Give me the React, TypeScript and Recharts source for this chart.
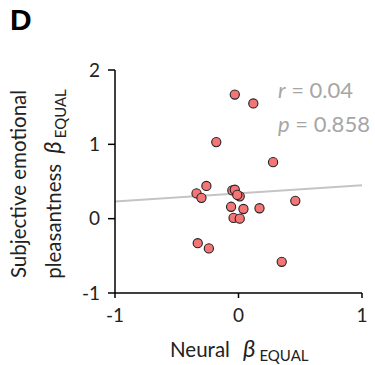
import React from 'react';
import {
  ComposedChart,
  Scatter,
  XAxis,
  YAxis,
  ReferenceLine,
  Customized,
} from 'recharts';

// neural beta (x) vs subjective pleasantness beta (y), one point per subject
const neuralBeta = [
  -0.03, 0.12, -0.18, 0.28, -0.26, -0.34, -0.3, -0.05, -0.03, 0.01,
  -0.01, -0.06, 0.04, 0.17, 0.46, -0.04, 0.01, -0.33, -0.24, 0.35,
];
const pleasantBeta = [
  1.67, 1.55, 1.03, 0.76, 0.44, 0.34, 0.28, 0.38, 0.39, 0.3,
  0.32, 0.16, 0.13, 0.14, 0.24, 0.01, 0.0, -0.33, -0.4, -0.58,
];

const xTicks = [-1, 0, 1];
const yTicks = [-1, 0, 1, 2];

// regression fit endpoints
const fitX = [-1, 1];
const fitY = [0.23, 0.45];

const statLabels = ['r', 'p'];
const statValues = ['0.04', '0.858'];

const points = neuralBeta.map((x, i) => ({ x, y: pleasantBeta[i] }));

const FONT = 'Lato, "Open Sans", sans-serif';
const GREY = '#a6a6a6';

const Dot = (props: any) => {
  const { cx, cy } = props;
  return <circle cx={cx} cy={cy} r={4.6} fill="#f47575" stroke="#222" strokeWidth={1.1} />;
};

const Annotations = () => (
  <g fontFamily={FONT}>
    {/* y axis title, two lines, rotated */}
    <text
      transform="rotate(-90)"
      x={-184}
      y={26}
      textAnchor="middle"
      fontSize={20.5}
      fill="#222"
    >
      Subjective emotional
    </text>
    <text
      transform="rotate(-90)"
      x={-184}
      y={61}
      textAnchor="middle"
      fontSize={20.5}
      fill="#222"
    >
      pleasantness
      <tspan dx={10} fontStyle="italic" fontSize={24}>β</tspan>
      <tspan dx={3} dy={5} fontSize={15}>EQUAL</tspan>
    </text>
    {/* x axis title */}
    <text x={170} y={357} fontSize={20.5} fill="#222">
      Neural
      <tspan dx={13} fontStyle="italic" fontSize={24}>β</tspan>
      <tspan dx={4} dy={4} fontSize={15}>EQUAL</tspan>
    </text>
    {/* stats */}
    {statLabels.map((s, i) => (
      <text key={s} x={278} y={98 + i * 34} fontSize={22} fill={GREY}>
        <tspan fontStyle="italic">{s}</tspan> = {statValues[i]}
      </text>
    ))}
  </g>
);

export default function App() {
  return (
    <div style={{ position: 'absolute', left: 0, top: 0, width: 375, height: 365 }}>
      <div
        style={{
          position: 'absolute',
          left: 10,
          top: 3,
          fontFamily: '"Liberation Sans", Arial, sans-serif',
          fontWeight: 'bold',
          fontSize: 30,
          color: '#000',
        }}
      >
        D
      </div>
      <ComposedChart
        width={375}
        height={365}
        data={points}
        margin={{ top: 70, right: 13, bottom: 12, left: 55 }}
      >
        <XAxis
          type="number"
          dataKey="x"
          domain={[-1, 1]}
          ticks={xTicks}
          tickSize={5}
          tickMargin={11}
          height={60}
          axisLine={{ stroke: '#000', strokeWidth: 1.5 }}
          tickLine={{ stroke: '#000', strokeWidth: 1.5 }}
          tick={{ fill: '#222', fontSize: 19, fontFamily: FONT }}
          allowDataOverflow
        />
        <YAxis
          type="number"
          dataKey="y"
          domain={[-1, 2]}
          ticks={yTicks}
          tickSize={7}
          tickMargin={8}
          width={60}
          axisLine={{ stroke: '#000', strokeWidth: 1.5 }}
          tickLine={{ stroke: '#000', strokeWidth: 1.5 }}
          tick={{ fill: '#222', fontSize: 19, fontFamily: FONT }}
          allowDataOverflow
        />
        <ReferenceLine
          segment={[
            { x: fitX[0], y: fitY[0] },
            { x: fitX[1], y: fitY[1] },
          ]}
          stroke="#c4c4c4"
          strokeWidth={2}
          ifOverflow="visible"
        />
        <Scatter dataKey="y" shape={<Dot />} isAnimationActive={false} />
        <Customized component={Annotations} />
      </ComposedChart>
    </div>
  );
}
